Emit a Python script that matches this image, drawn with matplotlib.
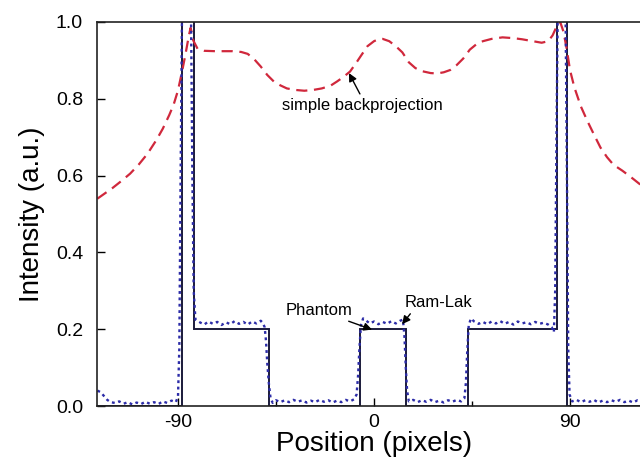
import matplotlib
matplotlib.use("Agg")
import matplotlib.pyplot as plt
from matplotlib.ticker import FixedLocator

plt.rcParams["font.family"] = ["Liberation Sans", "DejaVu Sans"]
plt.rcParams["axes.unicode_minus"] = False

# phantom: piecewise constant profile (edges and levels)
phantom_edges = [-127.2, -88, -82.5, -48, -6.5, 14.5, 43, 84, 88.5, 127.2]
phantom_levels = [0, 1.2, 0.2, 0, 0.2, 0, 0.2, 1.2, 0]

# Ram-Lak filtered backprojection, in segments
rl_x1 = [-127, -125.5, -124, -122.5, -121, -119, -117, -115, -113, -111,
         -109, -107, -105, -103, -101, -99, -97, -95, -93, -91]
rl_y1 = [0.040, 0.036, 0.026, 0.016, 0.010, 0.008, 0.012, 0.006, 0.010, 0.004,
         0.009, 0.005, 0.011, 0.006, 0.010, 0.005, 0.012, 0.008, 0.014, 0.010]
rl_x2 = [-90, -89.4, -88.8, -88.2, -87, -85, -84, -83.4, -82.8, -82]
rl_y2 = [0.025, 0.15, 0.6, 1.0, 1.15, 1.15, 1.0, 0.6, 0.3, 0.225]
rl_x3 = [-80, -78, -76, -74, -72, -70, -68, -66, -64, -62, -60, -58, -56, -54, -52, -51]
rl_y3 = [0.218, 0.212, 0.220, 0.214, 0.219, 0.211, 0.218, 0.213, 0.221, 0.214,
         0.219, 0.212, 0.220, 0.215, 0.222, 0.216]
rl_x4 = [-50.2, -49.6, -49, -48.3, -47.5, -46.5]
rl_y4 = [0.205, 0.17, 0.11, 0.06, 0.02, 0.008]
rl_x5 = [-45, -43, -41, -39, -37, -35, -33, -31, -29, -27, -25, -23, -21, -19,
         -17, -15, -13, -11, -9]
rl_y5 = [0.015, 0.010, 0.015, 0.010, 0.016, 0.011, 0.015, 0.009, 0.014, 0.010,
         0.016, 0.011, 0.015, 0.009, 0.014, 0.010, 0.016, 0.012, 0.018]
rl_x6 = [-8, -7.3, -6.7, -6, -5, -3.5, -2, 0, 2, 4, 6, 8, 10, 12, 13.3]
rl_y6 = [0.03, 0.08, 0.15, 0.21, 0.228, 0.222, 0.215, 0.220, 0.213, 0.219,
         0.214, 0.221, 0.215, 0.222, 0.225]
rl_x7 = [14, 14.6, 15.2, 16, 18, 20, 22, 24, 26, 28, 30, 32, 34, 36, 38, 40]
rl_y7 = [0.18, 0.10, 0.04, 0.012, 0.016, 0.010, 0.015, 0.011, 0.016, 0.010,
         0.014, 0.009, 0.015, 0.011, 0.016, 0.012]
rl_x8 = [41.5, 42.2, 42.8, 43.5, 44.5, 46, 48, 50, 52, 54, 56, 58, 60, 62, 64,
         66, 68, 70, 72, 74, 76, 78, 80]
rl_y8 = [0.02, 0.06, 0.14, 0.21, 0.228, 0.220, 0.214, 0.219, 0.213, 0.220,
         0.215, 0.221, 0.214, 0.219, 0.212, 0.220, 0.215, 0.218, 0.213, 0.219,
         0.214, 0.217, 0.212]
rl_x9 = [81.6, 82.6, 83.2, 83.8, 84.5, 87, 88, 88.6, 89.2, 89.8]
rl_y9 = [0.205, 0.192, 0.3, 0.7, 1.1, 1.15, 1.0, 0.6, 0.15, 0.03]
rl_x10 = [91, 93, 95, 97, 99, 101, 103, 105, 107, 109, 111, 113, 115, 117, 119,
          121, 123, 125, 127]
rl_y10 = [0.012, 0.016, 0.010, 0.015, 0.011, 0.016, 0.009, 0.014, 0.010, 0.015,
          0.011, 0.016, 0.010, 0.014, 0.009, 0.015, 0.012, 0.016, 0.011]
ramlak_x = rl_x1 + rl_x2 + rl_x3 + rl_x4 + rl_x5 + rl_x6 + rl_x7 + rl_x8 + rl_x9 + rl_x10
ramlak_y = rl_y1 + rl_y2 + rl_y3 + rl_y4 + rl_y5 + rl_y6 + rl_y7 + rl_y8 + rl_y9 + rl_y10

# simple (unfiltered) backprojection
sbp_x = [-127, -124, -120, -116, -112, -108, -104, -100, -97, -94, -92, -90, -88, -86.5,
         -85, -84.2, -83, -81, -78, -73, -69, -65, -61, -58, -55, -52, -49, -46, -43,
         -40, -36, -32, -28, -24, -20, -17, -14, -11, -8, -6, -3, 0, 2, 4, 7, 10, 13,
         16, 19, 22, 26, 29, 32, 35, 38, 41, 44, 47, 50, 54, 59, 64, 68, 73, 77, 80,
         82, 84, 85.5, 87, 88.5, 90, 92, 95, 98, 101, 104, 107, 110, 114, 118, 122, 127]
sbp_y = [0.540, 0.552, 0.568, 0.586, 0.605, 0.629, 0.657, 0.692, 0.722, 0.758, 0.785,
         0.822, 0.875, 0.918, 0.965, 0.985, 0.952, 0.930, 0.925, 0.924, 0.924, 0.924,
         0.922, 0.917, 0.903, 0.884, 0.862, 0.845, 0.835, 0.827, 0.823, 0.821, 0.823,
         0.827, 0.834, 0.845, 0.857, 0.871, 0.895, 0.912, 0.937, 0.950, 0.955, 0.956,
         0.950, 0.937, 0.921, 0.895, 0.880, 0.872, 0.867, 0.866, 0.869, 0.875, 0.888,
         0.905, 0.928, 0.942, 0.950, 0.956, 0.960, 0.958, 0.955, 0.950, 0.946, 0.950,
         0.965, 0.990, 1.0, 0.975, 0.93, 0.875, 0.83, 0.78, 0.742, 0.707, 0.673, 0.648,
         0.628, 0.613, 0.596, 0.578, 0.560]

fig = plt.figure(figsize=(6.4, 4.61), dpi=100)
# axes run past the right edge of the figure, as in the cropped original
ax = fig.add_axes([97 / 640, 55 / 461, 554 / 640, 384 / 461])

ax.plot(sbp_x, sbp_y, color="#d0283c", lw=1.6, dashes=(5, 3))
ax.stairs(phantom_levels, phantom_edges, baseline=None, color="#1a1a3a", lw=1.4)
ax.plot(ramlak_x, ramlak_y, color="#2c2ca8", lw=1.7, linestyle=(0, (1.2, 1.5)))

ax.set_xlim(-127.2, 127.2)
ax.set_ylim(0, 1.0)
ax.set_xticks([-90, 0, 90])
ax.set_xticklabels(["-90", "0", "90"])
ax.set_yticks([0.0, 0.2, 0.4, 0.6, 0.8, 1.0])
ax.xaxis.set_minor_locator(FixedLocator([-45, 45]))
ax.tick_params(direction="in", length=6, width=1, labelsize=14)
ax.tick_params(axis="x", which="minor", direction="in", length=3.5, width=1)
ax.tick_params(axis="x", pad=5.5)
ax.tick_params(axis="y", pad=10)
for s in ax.spines.values():
    s.set_linewidth(1.2)
    s.set_color("#222222")

ax.set_xlabel("Position (pixels)", fontsize=20, labelpad=0)
ax.set_ylabel("Intensity (a.u.)", fontsize=20, labelpad=8)

arrow = dict(arrowstyle="-|>", color="black", lw=1, mutation_scale=12, shrinkA=1, shrinkB=0)
ax.annotate("simple backprojection", xy=(-11.5, 0.867), xytext=(-5.5, 0.771),
            ha="center", va="baseline", fontsize=12,
            arrowprops=dict(arrow, relpos=(0.5, 1.0)))
ax.annotate("Phantom", xy=(-0.9, 0.199), xytext=(-25.0, 0.237),
            ha="center", va="baseline", fontsize=12,
            arrowprops=dict(arrow, relpos=(0.8, 0.0)))
ax.annotate("Ram-Lak", xy=(12.9, 0.213), xytext=(29.6, 0.258),
            ha="center", va="baseline", fontsize=12,
            arrowprops=dict(arrow, relpos=(0.13, 0.0)))

fig.savefig("out.png", dpi=100)
